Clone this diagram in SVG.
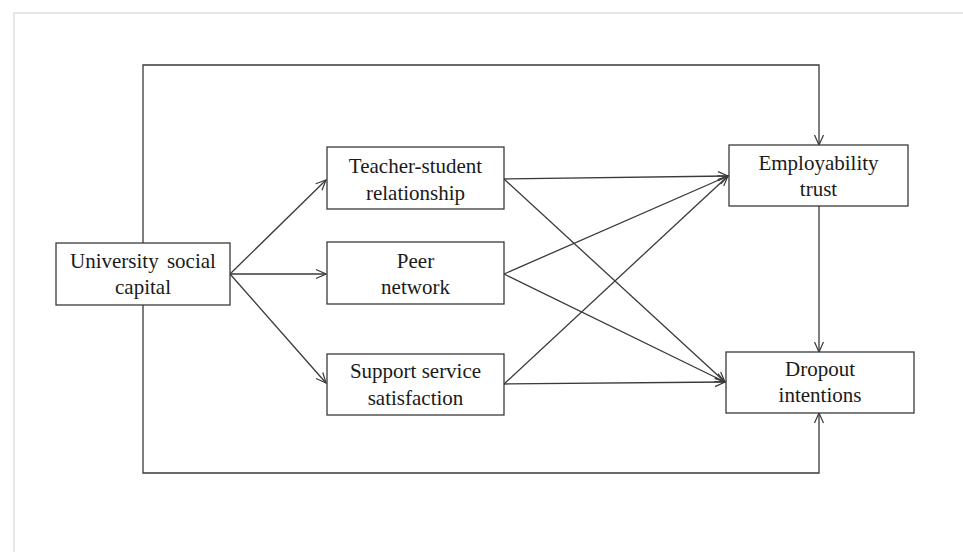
<svg xmlns="http://www.w3.org/2000/svg" width="963" height="552" viewBox="0 0 963 552">
<style>
.box{fill:#fff;stroke:#3a3a3a;stroke-width:1.3}
.lbl{font-family:"Liberation Serif","Times New Roman",serif;font-size:21px;fill:#1a1a1a;text-anchor:middle}
.edge{fill:none;stroke:#3a3a3a;stroke-width:1.3;marker-end:url(#ah)}
</style>
<defs>
<marker id="ah" markerUnits="userSpaceOnUse" markerWidth="12" markerHeight="12" refX="10" refY="5" orient="auto" viewBox="-1 -1 12 12">
<path d="M0,0.5 L10,5 L0,9.5" fill="none" stroke="#3a3a3a" stroke-width="1.2"/>
</marker>
</defs>
<rect width="963" height="552" fill="#fff"/>
<path d="M14,552 V13 H963" fill="none" stroke="#e6e6e6" stroke-width="2"/>
<g id="connectors">
<path class="edge" d="M143,243 V65 H819 V145"/>
<path class="edge" d="M143,305 V473 H819 V413"/>
<path class="edge" d="M230,274 L326,180"/>
<path class="edge" d="M230,274 L326,274"/>
<path class="edge" d="M230,274 L326,383"/>
<path class="edge" d="M504,179 L728,176"/>
<path class="edge" d="M504,179 L725,382"/>
<path class="edge" d="M504,274 L728,176"/>
<path class="edge" d="M504,274 L725,382"/>
<path class="edge" d="M504,384 L728,176"/>
<path class="edge" d="M504,384 L725,382"/>
<path class="edge" d="M819,206 V352"/>
</g>
<g id="university">
<rect class="box" x="56" y="243" width="174" height="62"/>
<text class="lbl" x="143" y="268" word-spacing="3">University social</text>
<text class="lbl" x="143" y="294">capital</text>
</g>
<g id="teacher">
<rect class="box" x="327" y="147" width="177" height="62"/>
<text class="lbl" x="415.5" y="173">Teacher-student</text>
<text class="lbl" x="415.5" y="200">relationship</text>
</g>
<g id="peer">
<rect class="box" x="327" y="242" width="177" height="62"/>
<text class="lbl" x="415.5" y="268">Peer</text>
<text class="lbl" x="415.5" y="294">network</text>
</g>
<g id="support">
<rect class="box" x="327" y="354" width="177" height="61"/>
<text class="lbl" x="415.5" y="378">Support service</text>
<text class="lbl" x="415.5" y="405">satisfaction</text>
</g>
<g id="employability">
<rect class="box" x="729" y="145" width="179" height="61"/>
<text class="lbl" x="818.5" y="170">Employability</text>
<text class="lbl" x="818.5" y="196">trust</text>
</g>
<g id="dropout">
<rect class="box" x="726" y="352" width="188" height="61"/>
<text class="lbl" x="820" y="376">Dropout</text>
<text class="lbl" x="820" y="402">intentions</text>
</g>
</svg>
